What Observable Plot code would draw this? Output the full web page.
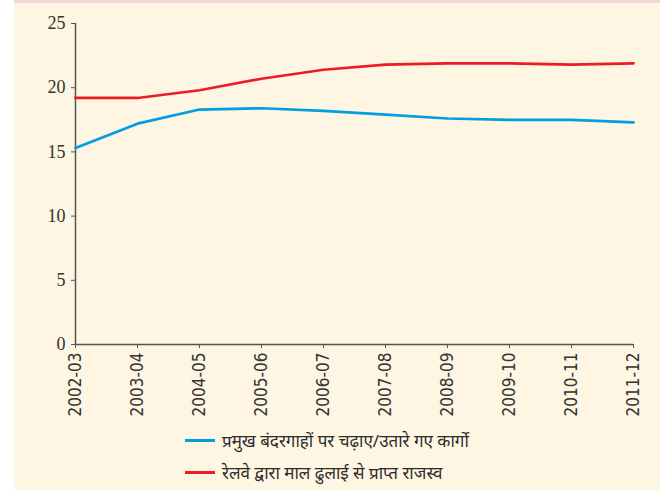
<!DOCTYPE html>
<html>
<head>
<meta charset="utf-8">
<script src="https://cdn.jsdelivr.net/npm/d3@7"></script>
<script src="https://cdn.jsdelivr.net/npm/@observablehq/plot@0.6"></script>
<style>
  html, body { margin: 0; padding: 0; background: #ffffff; }
  #wrap {
    position: absolute; left: 14px; top: 0; width: 646px; height: 490px;
    background: #fef6e2; border-top: 3px solid #f2d6d6; box-sizing: border-box;
  }
  #legend {
    position: absolute; left: 171px; top: 421px;
    font-family: "Noto Sans", "Noto Sans Devanagari", sans-serif; font-size: 17px; color: #2b2b2b;
  }
  .row { display: flex; align-items: center; height: 32px; }
  .sw { width: 30px; height: 3px; margin-right: 7px; }
</style>
</head>
<body>
<div id="wrap"><div id="chart"></div><div id="legend"></div></div>
<script>
const years = ["2002-03","2003-04","2004-05","2005-06","2006-07","2007-08","2008-09","2009-10","2010-11","2011-12"];
const ports = [15.3, 17.2, 18.3, 18.4, 18.2, 17.9, 17.6, 17.5, 17.5, 17.3];
const rail  = [19.2, 19.2, 19.8, 20.7, 21.4, 21.8, 21.9, 21.9, 21.8, 21.9];
const seriesNames = ["प्रमुख बंदरगाहों पर चढ़ाए/उतारे गए कार्गो", "रेलवे द्वारा माल ढुलाई से प्राप्त राजस्व"];
const seriesColors = ["#009fe3", "#ed1c24"];
const yTicks = [0, 5, 10, 15, 20, 25];

const rows = [];
years.forEach((y, i) => {
  rows.push({year: y, value: ports[i], series: seriesNames[0]});
  rows.push({year: y, value: rail[i], series: seriesNames[1]});
});

const chart = Plot.plot({
  width: 646,
  height: 424,
  marginLeft: 61,
  marginRight: 27,
  marginTop: 20,
  marginBottom: 83,
  style: {background: "transparent", overflow: "visible"},
  x: {type: "point", domain: years, padding: 0, label: null},
  y: {domain: [0, 25], label: null},
  color: {domain: seriesNames, range: seriesColors},
  marks: [
    Plot.axisY({ticks: yTicks, tickSize: 4, tickPadding: 6, stroke: "#555", label: null,
      fontFamily: "Liberation Serif, serif", fontSize: 18, fill: "#333"}),
    Plot.axisX({tickSize: 4, tickPadding: 4, tickRotate: -90, stroke: "#555", label: null,
      fontFamily: "Liberation Sans Narrow, DejaVu Sans Condensed, sans-serif", fontSize: 17, fill: "#333"}),
    Plot.ruleX([years[0]], {stroke: "#555", strokeWidth: 1.5}),
    Plot.ruleY([0], {stroke: "#555", strokeWidth: 1.5}),
    Plot.line(rows, {x: "year", y: "value", z: "series", stroke: "series", strokeWidth: 2.7})
  ]
});
document.getElementById("chart").appendChild(chart);

const legend = document.getElementById("legend");
seriesNames.forEach((n, i) => {
  const r = document.createElement("div");
  r.className = "row";
  const sw = document.createElement("div");
  sw.className = "sw";
  sw.style.background = seriesColors[i];
  const t = document.createElement("span");
  t.textContent = n;
  r.appendChild(sw); r.appendChild(t);
  legend.appendChild(r);
});
</script>
</body>
</html>
